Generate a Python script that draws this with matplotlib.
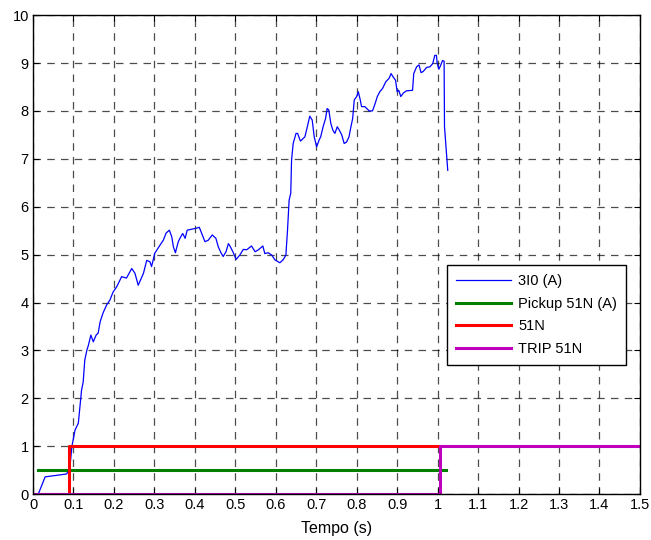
import numpy as np
import matplotlib.pyplot as plt

plt.rcParams['font.family'] = ['Liberation Sans', 'DejaVu Sans']

# 3I0 (A) trace
t_3i0 = [0.013, 0.03, 0.083, 0.091, 0.096, 0.104, 0.112, 0.116, 0.12, 0.124,
         0.128, 0.133, 0.137, 0.143, 0.149, 0.156, 0.161, 0.166, 0.173, 0.182,
         0.19, 0.198, 0.207, 0.219, 0.231, 0.244, 0.252, 0.26, 0.273, 0.281,
         0.289, 0.293, 0.301, 0.314, 0.322, 0.329, 0.337, 0.343, 0.347, 0.352,
         0.359, 0.365, 0.37, 0.376, 0.381, 0.392, 0.403, 0.411, 0.417, 0.425,
         0.433, 0.443, 0.452, 0.458, 0.465, 0.47, 0.477, 0.483, 0.488, 0.495,
         0.502, 0.511, 0.52, 0.528, 0.54, 0.549, 0.557, 0.568, 0.573, 0.581,
         0.59, 0.598, 0.61, 0.618, 0.625, 0.629, 0.633, 0.637, 0.639, 0.643,
         0.65, 0.654, 0.661, 0.672, 0.678, 0.684, 0.69, 0.695, 0.701, 0.707,
         0.711, 0.717, 0.723, 0.727, 0.731, 0.736, 0.741, 0.746, 0.752, 0.757,
         0.763, 0.769, 0.775, 0.781, 0.785, 0.79, 0.794, 0.8, 0.804, 0.808,
         0.812, 0.82, 0.826, 0.831, 0.839, 0.845, 0.851, 0.857, 0.864, 0.872,
         0.88, 0.885, 0.89, 0.896, 0.9, 0.904, 0.909, 0.915, 0.923, 0.938,
         0.941, 0.948, 0.954, 0.959, 0.964, 0.973, 0.981, 0.988, 0.993, 0.997,
         0.999, 1.003, 1.007, 1.012, 1.016, 1.017, 1.025]
i_3i0 = [0.0, 0.36, 0.42, 0.54, 0.99, 1.34, 1.48, 1.82, 2.17, 2.34,
         2.8, 3.0, 3.11, 3.32, 3.18, 3.32, 3.36, 3.6, 3.78, 3.95,
         4.05, 4.22, 4.33, 4.54, 4.51, 4.71, 4.61, 4.36, 4.61, 4.88,
         4.85, 4.75, 5.03, 5.2, 5.3, 5.45, 5.51, 5.37, 5.16, 5.04,
         5.27, 5.37, 5.44, 5.34, 5.51, 5.53, 5.55, 5.57, 5.44, 5.27,
         5.3, 5.41, 5.34, 5.16, 5.03, 4.96, 5.06, 5.23, 5.16, 5.04,
         4.9, 4.99, 5.11, 5.1, 5.18, 5.06, 5.1, 5.18, 5.02, 5.04,
         4.99, 4.89, 4.83, 4.89, 4.99, 5.51, 6.14, 6.28, 6.97, 7.32,
         7.53, 7.53, 7.37, 7.46, 7.67, 7.89, 7.81, 7.46, 7.25, 7.39,
         7.46, 7.67, 7.84, 8.05, 8.02, 7.74, 7.6, 7.53, 7.67, 7.6,
         7.5, 7.32, 7.35, 7.46, 7.64, 7.84, 8.23, 8.3, 8.4, 8.26,
         8.09, 8.09, 8.04, 8.0, 8.0, 8.14, 8.3, 8.4, 8.47, 8.61,
         8.68, 8.78, 8.71, 8.64, 8.4, 8.43, 8.3, 8.37, 8.42, 8.43,
         8.78, 8.92, 8.96, 8.8, 8.82, 8.91, 8.92, 8.99, 9.16, 9.16,
         8.99, 8.87, 8.94, 9.05, 9.04, 7.67, 6.76]

# Pickup 51N (A)
t_pickup = [0.013, 1.02]
v_pickup = [0.5, 0.5]

# 51N
t_51n = [0.0, 0.09, 0.09, 1.005]
v_51n = [0, 0, 1, 1]

# TRIP 51N
t_trip = [0.0, 1.005, 1.005, 1.5]
v_trip = [0, 0, 1, 1]

fig = plt.figure(figsize=(6.51, 5.40), dpi=100)
ax = fig.add_axes([0.0507, 0.085, 0.9323, 0.887])

ax.plot(t_3i0, i_3i0, color=(0, 0, 1), lw=0.9, label='3I0 (A)')
ax.plot(t_pickup, v_pickup, color=(0, 0.5, 0), lw=2.2, label='Pickup 51N (A)')
ax.plot(t_51n, v_51n, color=(1, 0, 0), lw=2.2, label='51N')
ax.plot(t_trip, v_trip, color=(0.75, 0, 0.75), lw=2.2, label='TRIP 51N')

ax.set_xlim(0, 1.5)
ax.set_ylim(0, 10)
xt = np.round(np.arange(0, 1.51, 0.1), 1)
ax.set_xticks(xt)
ax.set_xticklabels(['%g' % v for v in xt])
ax.set_yticks(range(0, 11))
ax.tick_params(direction='in', top=True, right=True, labelsize=10.5, length=4, pad=3)
ax.grid(True, color='black', linestyle=(0, (6, 5)), lw=0.9, alpha=0.7)
for s in ax.spines.values():
    s.set_linewidth(1.0)

ax.set_xlabel('Tempo (s)', fontsize=11.5, labelpad=6)

leg = ax.legend(loc='upper left', bbox_to_anchor=(0.682, 0.478), fontsize=10.5,
                fancybox=False, framealpha=1, edgecolor='black',
                borderaxespad=0, handlelength=3.8, handletextpad=0.5,
                borderpad=0.6, labelspacing=0.6)
leg.get_frame().set_linewidth(1.0)

fig.savefig('out.png', dpi=100)
